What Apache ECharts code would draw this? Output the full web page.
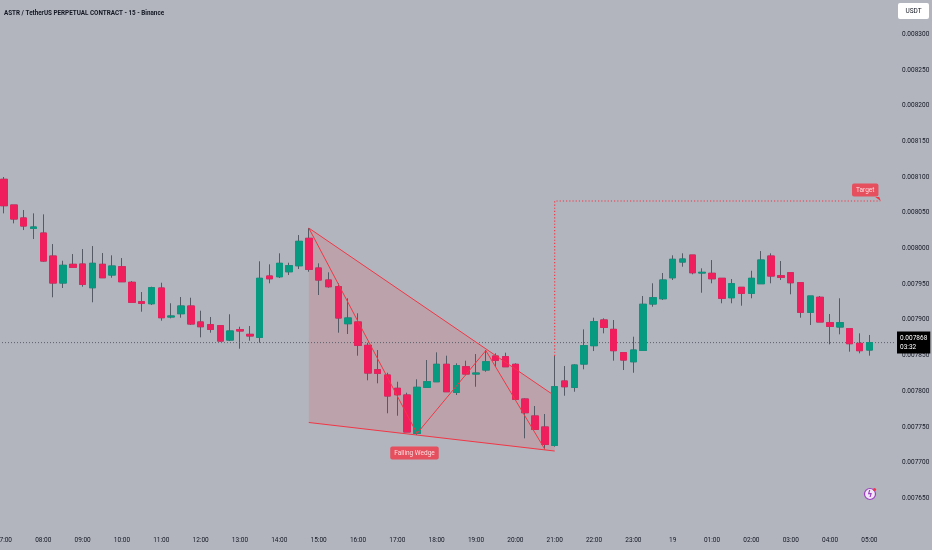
<!DOCTYPE html>
<html><head><meta charset="utf-8">
<script src="https://cdn.jsdelivr.net/npm/echarts@6/dist/echarts.min.js"></script>
<style>html,body{margin:0;padding:0;background:#b2b5be}#c{width:932px;height:550px}</style>
</head><body><div id="c"></div>
<script>
const titleText = 'ASTR / TetherUS PERPETUAL CONTRACT - 15 - Binance';
const hourLabels = ['07:00','08:00','09:00','10:00','11:00','12:00','13:00','14:00','15:00','16:00','17:00','18:00','19:00','20:00','21:00','22:00','23:00','19','01:00','02:00','03:00','04:00','05:00'];
const slotCount = 91;
const opens = [0.0080969,0.0080609,0.0080427,0.0080282,0.0080216,0.0079894,0.0079516,0.0079778,0.0079782,0.0079450,
0.0079778,0.0079628,0.0079744,0.0079526,0.0079254,0.0079226,0.0079446,0.0079040,0.0079086,0.0079194,
0.0078970,0.0078932,0.0078918,0.0078717,0.0078862,0.0078797,0.0078755,0.0079614,0.0079604,0.0079674,
0.0079758,0.0080142,0.0079726,0.0079558,0.0079464,0.0078946,0.0078970,0.0078643,0.0078301,0.0078227,
0.0078041,0.0077947,0.0077410,0.0078055,0.0078133,0.0078377,0.0077985,0.0078343,0.0078241,0.0078297,
0.0078493,0.0078484,0.0078377,0.0077891,0.0077653,0.0077499,0.0077242,0.0078143,0.0078055,0.0078381,
0.0078638,0.0078998,0.0078867,0.0078540,0.0078413,0.0078573,0.0079222,0.0079296,0.0079590,0.0079810,
0.0079908,0.0079656,0.0079652,0.0079582,0.0079310,0.0079456,0.0079372,0.0079506,0.0079894,0.0079618,
0.0079660,0.0079520,0.0079106,0.0079316,0.0078960,0.0078900,0.0078876,0.0078671,0.0078577];
const closes = [0.0080599,0.0080413,0.0080315,0.0080301,0.0079824,0.0079516,0.0079764,0.0079736,0.0079498,0.0079792,
0.0079590,0.0079754,0.0079534,0.0079246,0.0079232,0.0079450,0.0079030,0.0079054,0.0079194,0.0078942,
0.0078904,0.0078867,0.0078703,0.0078844,0.0078844,0.0078774,0.0079582,0.0079576,0.0079792,0.0079758,
0.0080100,0.0079708,0.0079558,0.0079464,0.0079026,0.0079026,0.0078643,0.0078255,0.0078251,0.0077933,
0.0077951,0.0077429,0.0078055,0.0078133,0.0078377,0.0077993,0.0078357,0.0078241,0.0078255,0.0078413,
0.0078433,0.0078343,0.0077887,0.0077699,0.0077466,0.0077256,0.0078063,0.0078063,0.0078367,0.0078638,
0.0078974,0.0078895,0.0078568,0.0078437,0.0078577,0.0079218,0.0079310,0.0079558,0.0079848,0.0079852,
0.0079660,0.0079666,0.0079576,0.0079302,0.0079506,0.0079372,0.0079582,0.0079838,0.0079614,0.0079596,
0.0079520,0.0079106,0.0079334,0.0078970,0.0078909,0.0078960,0.0078666,0.0078568,0.0078681];
const lows = [0.0080492,0.0080352,0.0080258,0.0080132,0.0079814,0.0079316,0.0079446,0.0079736,0.0079464,0.0079246,
0.0079586,0.0079590,0.0079530,0.0079246,0.0079114,0.0079208,0.0078988,0.0079021,0.0079030,0.0078928,
0.0078755,0.0078820,0.0078694,0.0078703,0.0078596,0.0078708,0.0078680,0.0079512,0.0079586,0.0079628,
0.0079712,0.0079674,0.0079348,0.0079450,0.0078820,0.0078802,0.0078498,0.0078153,0.0078111,0.0077691,
0.0077657,0.0077429,0.0077387,0.0078055,0.0078133,0.0077993,0.0077947,0.0078223,0.0078063,0.0078273,
0.0078343,0.0078343,0.0077887,0.0077340,0.0077457,0.0077186,0.0077223,0.0077937,0.0077993,0.0078307,
0.0078563,0.0078811,0.0078428,0.0078297,0.0078259,0.0078573,0.0079184,0.0079278,0.0079558,0.0079744,
0.0079638,0.0079380,0.0079512,0.0079232,0.0079232,0.0079198,0.0079302,0.0079506,0.0079512,0.0079558,
0.0079358,0.0079030,0.0078928,0.0078970,0.0078657,0.0078797,0.0078554,0.0078531,0.0078498];
const highs = [0.0081001,0.0080609,0.0080539,0.0080492,0.0080478,0.0080062,0.0079828,0.0079922,0.0079992,0.0080034,
0.0079936,0.0079904,0.0079866,0.0079544,0.0079390,0.0079464,0.0079520,0.0079232,0.0079320,0.0079310,
0.0079128,0.0079040,0.0078918,0.0079078,0.0078904,0.0078914,0.0079820,0.0079778,0.0079932,0.0079800,
0.0080188,0.0080286,0.0079792,0.0079666,0.0079512,0.0079302,0.0079092,0.0078680,0.0078577,0.0078259,
0.0078133,0.0077979,0.0078167,0.0078437,0.0078545,0.0078498,0.0078391,0.0078428,0.0078521,0.0078577,
0.0078531,0.0078540,0.0078391,0.0077901,0.0077793,0.0077681,0.0078493,0.0078353,0.0078377,0.0078867,
0.0079030,0.0079021,0.0078998,0.0078540,0.0078764,0.0079334,0.0079512,0.0079656,0.0079904,0.0079932,
0.0079908,0.0079722,0.0079838,0.0079582,0.0079572,0.0079456,0.0079688,0.0079964,0.0079932,0.0079824,
0.0079660,0.0079520,0.0079334,0.0079334,0.0079082,0.0079302,0.0078876,0.0078811,0.0078788];
const wedgeUpper = [[31, 0.0080286], [55.73, 0.0077961]];
const wedgeLower = [[31, 0.0077562], [56, 0.0077162]];
const zigzag = [[31, 0.0080286], [42, 0.0077408], [49, 0.0078570], [55, 0.0077186]];
const targetPrice = 0.0080665;
const targetPath = [[56, 0.0078493], [56, targetPrice], [89.1, targetPrice]];
const lastPrice = 0.0078681;
const countdown = '03:32';

const UP = '#089981', DOWN = '#ef1f5d', WICK = '#555a64', RED = '#f23645';
const FONT = 'Roboto, "Noto Sans", sans-serif';
const TXT = '#131722';

const categories = Array.from({length: slotCount}, (_, i) => String(i));
const wickData = opens.map((o, i) => [o, closes[i], lows[i], highs[i]]);
const bodyData = opens.map((o, i) => [o, closes[i], Math.min(o, closes[i]), Math.max(o, closes[i])]);

const chart = echarts.init(document.getElementById('c'));
chart.setOption({
  animation: false,
  backgroundColor: '#b2b5be',
  textStyle: {fontFamily: FONT},
  title: [{
    text: titleText, left: -1, top: 5,
    textStyle: {fontSize: 6.3, color: TXT, fontWeight: 'bold', fontFamily: FONT}
  }],
  grid: {left: -1, right: 38, top: 0, bottom: 51.7, containLabel: false, outerBoundsMode: 'none'},
  xAxis: [{
    type: 'category', data: categories, boundaryGap: true,
    axisLine: {show: false}, axisTick: {show: false}, splitLine: {show: false},
    axisLabel: {
      interval: (idx) => idx % 4 === 0 && idx / 4 < hourLabels.length,
      formatter: (v, idx) => hourLabels[idx / 4] || '',
      margin: 39, fontSize: 6.5, color: TXT, fontFamily: FONT
    }
  }, {
    type: 'value', min: -0.5, max: slotCount - 0.5, show: false
  }],
  yAxis: [{
    type: 'value', position: 'right', min: 0.00765, max: 0.0083481, interval: 0.00005,
    axisLine: {show: false}, axisTick: {show: false}, splitLine: {show: false},
    axisLabel: {
      showMaxLabel: false, margin: 8, fontSize: 6.5, color: TXT, fontFamily: FONT,
      formatter: (v) => v.toFixed(6)
    }
  }],
  series: [
    {
      type: 'custom', xAxisIndex: 1, yAxisIndex: 0, z: 1, silent: true,
      data: [wedgeUpper[0]],
      renderItem: (params, api) => {
        const pts = [wedgeUpper[0], wedgeUpper[1], wedgeLower[1], wedgeLower[0]].map(p => api.coord(p));
        return {type: 'polygon', shape: {points: pts}, style: {fill: 'rgba(242,54,69,0.15)'}};
      }
    },
    {
      type: 'line', xAxisIndex: 1, yAxisIndex: 0, z: 2, silent: true, symbol: 'none',
      data: [[-0.5, lastPrice], [slotCount - 0.5, lastPrice]],
      lineStyle: {type: [1, 2], color: '#5d606b', width: 1},
      endLabel: {
        show: true, distance: 3, formatter: lastPrice.toFixed(6) + '\n' + countdown,
        backgroundColor: '#000', color: '#fff', padding: [2, 3, 2, 3], fontSize: 6.5, lineHeight: 9,
        align: 'left', fontFamily: FONT
      }
    },
    {
      type: 'candlestick', xAxisIndex: 0, yAxisIndex: 0, z: 3, barWidth: 7, silent: true,
      data: wickData,
      itemStyle: {color: WICK, color0: WICK, borderColor: WICK, borderColor0: WICK, borderWidth: 1}
    },
    {
      type: 'candlestick', xAxisIndex: 0, yAxisIndex: 0, z: 4, barWidth: 7, silent: true,
      data: bodyData,
      itemStyle: {color: UP, color0: DOWN, borderColor: UP, borderColor0: DOWN, borderWidth: 1}
    },
    {
      type: 'line', xAxisIndex: 1, yAxisIndex: 0, z: 6, silent: true, symbol: 'none',
      data: wedgeUpper, lineStyle: {color: RED, width: 1}
    },
    {
      type: 'line', xAxisIndex: 1, yAxisIndex: 0, z: 6, silent: true, symbol: 'none',
      data: wedgeLower, lineStyle: {color: RED, width: 1}
    },
    {
      type: 'line', xAxisIndex: 1, yAxisIndex: 0, z: 6, silent: true, symbol: 'none',
      data: zigzag, lineStyle: {color: RED, width: 1}
    },
    {
      type: 'line', xAxisIndex: 1, yAxisIndex: 0, z: 6, silent: true, symbol: 'none',
      data: targetPath, lineStyle: {color: RED, width: 1.2, type: [1.2, 2]}
    },
    {
      type: 'custom', xAxisIndex: 1, yAxisIndex: 0, z: 8, silent: true,
      data: [targetPath[2]],
      renderItem: (params, api) => {
        const p = api.coord(targetPath[2]);
        return {type: 'polygon', shape: {points: [[p[0] - 5, p[1] - 4], [p[0] - 1, p[1] - 4], [p[0] + 0.5, p[1]]]}, style: {fill: RED}};
      }
    },
    {
      type: 'scatter', xAxisIndex: 1, yAxisIndex: 0, z: 8, silent: true, symbolSize: 1,
      itemStyle: {color: 'rgba(0,0,0,0)'},
      label: {
        show: true, position: 'inside', backgroundColor: RED, color: '#fff',
        fontSize: 6.5, padding: [3, 4], borderRadius: 2, fontFamily: FONT
      },
      data: [
        {value: targetPath[2], label: {formatter: 'Target', offset: [-15, -11]}},
        {value: zigzag[1], label: {formatter: 'Falling Wedge', offset: [-2.5, 19.5]}}
      ]
    }
  ],
  graphic: [
    {type: 'rect', shape: {x: 898, y: 3, width: 31, height: 16, r: 2}, style: {fill: '#ffffff'}},
    {type: 'text', x: 913.5, y: 11, style: {text: 'USDT', fill: TXT, font: '6.5px Roboto', align: 'center', verticalAlign: 'middle'}},
    {type: 'circle', shape: {cx: 870, cy: 494, r: 5.5}, style: {fill: '#f1e6f6', stroke: '#9b3fc0', lineWidth: 1.2}},
    {type: 'text', x: 870, y: 494.5, style: {text: 'ϟ', fill: '#9b3fc0', font: 'bold 8px "DejaVu Sans"', align: 'center', verticalAlign: 'middle'}},
    {type: 'circle', shape: {cx: 874.5, cy: 489.5, r: 1.6}, style: {fill: '#f23645'}}
  ]
});
</script></body></html>
